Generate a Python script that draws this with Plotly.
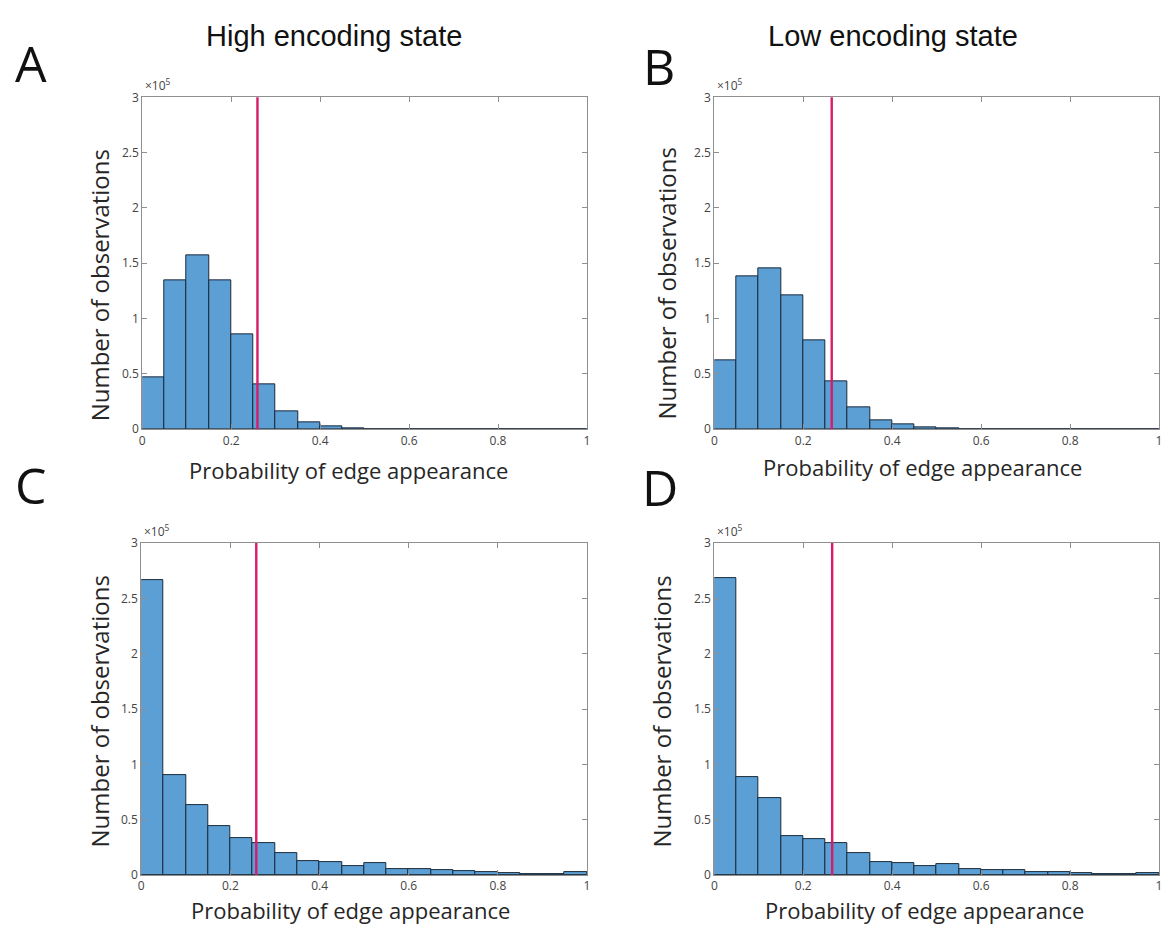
import numpy as np
import plotly.graph_objects as go

# Histogram bin edges (width 0.05 on [0, 1])
bin_edges = [round(0.05 * i, 2) for i in range(21)]

# Counts per bin for each condition
counts_high_a = [47000, 135000, 157000, 134500, 86000, 40500, 16500, 6500, 2400, 900,
                 300, 0, 0, 0, 0, 0, 0, 0, 0, 0]
counts_low_b = [62500, 138000, 145500, 121000, 80500, 43000, 19800, 8300, 4100, 1800,
                900, 300, 0, 0, 0, 0, 0, 0, 0, 0]
counts_high_c = [267000, 90300, 63100, 44400, 33200, 29000, 20100, 12700, 11800, 8000,
                 10400, 5000, 5000, 4100, 3300, 3000, 1800, 900, 900, 2400]
counts_low_d = [268500, 88200, 69600, 35500, 32000, 29000, 19800, 11300, 10700, 8300,
                9500, 5300, 4400, 4400, 2400, 3000, 1800, 1200, 600, 2100]

# Threshold marked in each panel
thresholds = [0.259, 0.264, 0.258, 0.265]

panel_counts = [counts_high_a, counts_low_b, counts_high_c, counts_low_d]
panel_letters = ["A", "B", "C", "D"]
column_titles = ["High encoding state", "Low encoding state"]
x_title = "Probability of edge appearance"
y_title = "Number of observations"

y_tick_vals = [0, 50000, 100000, 150000, 200000, 250000, 300000]
y_tick_text = ["0", "0.5", "1", "1.5", "2", "2.5", "3"]
x_tick_vals = [0, 0.2, 0.4, 0.6, 0.8, 1]
x_tick_text = ["0", "0.2", "0.4", "0.6", "0.8", "1"]

W, H = 1166, 934
# Plot-area boxes in pixels: (left, right, top, bottom)
boxes = [(140, 587, 90, 428), (715, 1162, 90, 428),
         (139, 587, 544, 882), (715, 1162, 544, 882)]
# Pixel centres of the axis titles and panel letters
x_title_pos = [(347, 470), (924, 466), (349, 918), (926, 918)]
y_title_pos = [(97, 282), (667, 280), (97, 716), (662, 716)]
letter_pos = [(28, 55), (659, 58), (28, 485), (660, 487)]
heading_pos = [(333, 27), (895, 27)]

BAR_COLOR = "#5b9fd5"
LINE_COLOR = "#d81b6a"
AXIS_COLOR = "#8f8f8f"
SANS = "Open Sans, Noto Sans, sans-serif"
TICK_FONT = dict(family=SANS, size=12, color="#444444")
XTITLE_FONT = dict(family=SANS, size=22, color="#262626")
YTITLE_FONT = dict(family=SANS, size=24, color="#262626")


def px_x(v):
    return v / W


def px_y(v):
    return 1 - v / H


fig = go.Figure()
edges = np.array(bin_edges)
centers = (edges[:-1] + edges[1:]) / 2
widths = np.diff(edges)

for i, (counts, box) in enumerate(zip(panel_counts, boxes)):
    n = "" if i == 0 else str(i + 1)
    xa, ya = "x" + n, "y" + n
    fig.add_trace(go.Bar(
        x=centers, y=counts, width=widths,
        marker=dict(color=BAR_COLOR, line=dict(color="#1a2a3a", width=1)),
        xaxis=xa, yaxis=ya, showlegend=False,
    ))
    fig.add_shape(type="line", xref=xa, yref=ya + " domain",
                  x0=thresholds[i], x1=thresholds[i], y0=0, y1=1,
                  line=dict(color=LINE_COLOR, width=2.4))

    left, right, top, bottom = box
    common = dict(showline=True, linecolor=AXIS_COLOR, linewidth=1, mirror="allticks",
                  ticks="inside", ticklen=5, tickcolor=AXIS_COLOR, showgrid=False,
                  zeroline=False, tickfont=TICK_FONT)
    fig.layout["xaxis" + n] = dict(
        domain=[px_x(left), px_x(right)], anchor=ya, range=[0, 1],
        tickvals=x_tick_vals, ticktext=x_tick_text, **common)
    fig.layout["yaxis" + n] = dict(
        domain=[px_y(bottom), px_y(top)], anchor=xa, range=[0, 300000],
        tickvals=y_tick_vals, ticktext=y_tick_text, **common)

    # axis titles
    tx, ty = x_title_pos[i]
    fig.add_annotation(text=x_title, xref="paper", yref="paper", x=px_x(tx), y=px_y(ty),
                       xanchor="center", yanchor="middle", showarrow=False, font=XTITLE_FONT)
    tx, ty = y_title_pos[i]
    fig.add_annotation(text=y_title, xref="paper", yref="paper", x=px_x(tx), y=px_y(ty),
                       xanchor="center", yanchor="middle", textangle=-90, showarrow=False,
                       font=YTITLE_FONT)

    # exponent label above the y-axis
    fig.add_annotation(text="×10<sup>5</sup>", xref="paper", yref="paper",
                       x=px_x(left + 1), y=px_y(top - 1), xanchor="left", yanchor="bottom",
                       showarrow=False, font=dict(family=SANS, size=12, color="#444444"))

# Panel letters
for letter, (px, py) in zip(panel_letters, letter_pos):
    fig.add_annotation(text=letter, xref="paper", yref="paper", x=px_x(px), y=px_y(py),
                       xanchor="center", yanchor="middle", showarrow=False,
                       font=dict(family=SANS, size=50, color="#111111"))

# Column headings
for title, (px, py) in zip(column_titles, heading_pos):
    fig.add_annotation(text=title, xref="paper", yref="paper", x=px_x(px), y=px_y(py),
                       xanchor="center", yanchor="middle", showarrow=False,
                       font=dict(family="Liberation Sans, Arial, sans-serif", size=29,
                                 color="#111111"))

fig.update_layout(width=W, height=H, margin=dict(l=0, r=0, t=0, b=0),
                  paper_bgcolor="white", plot_bgcolor="white", bargap=0)

fig.write_html("out.html")
